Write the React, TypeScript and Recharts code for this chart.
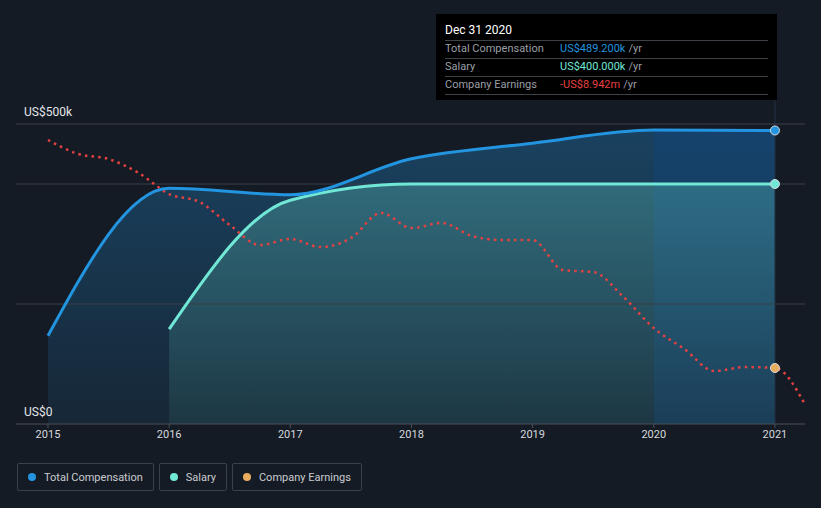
import {
    Area,
    ComposedChart,
    Line,
    ReferenceLine,
    XAxis,
    YAxis,
} from "recharts";

// yearly pay figures (US$), one per Dec 31
const compYears = [2015, 2016, 2017, 2018, 2019, 2020, 2021];
const totalComp = [147000, 393000, 382000, 442000, 468000, 490000, 489200];
const salary = [null, 158000, 373000, 400000, 400000, 400000, 400000];

// company earnings (US$m), quarterly
const earnDates = [
    2015, 2015.25, 2015.5, 2015.75, 2016, 2016.25, 2016.5, 2016.75, 2017, 2017.25, 2017.5, 2017.75, 2018,
    2018.25, 2018.5, 2018.75, 2019, 2019.25, 2019.5, 2019.75, 2020, 2020.25, 2020.5, 2020.75, 2021, 2021.25,
];
const earnings = [
    1.47, 0.83, 0.6, -0.04, -1.0, -1.36, -2.41, -3.33, -3.05, -3.42, -3.01, -1.86, -2.55, -2.32, -2.91, -3.1,
    -3.1, -4.47, -4.56, -5.7, -7.12, -8.07, -9.08, -8.9, -8.942, -10.63,
];

const yearTicks = [2015, 2016, 2017, 2018, 2019, 2020, 2021];
const moneyTicks = [0, 200000, 400000, 500000];
const gridLines = [200000, 400000, 500000];
const moneyLabels: Record<number, string> = { 0: "US$0", 500000: "US$500k" };

const legendItems = [
    { name: "Total Compensation", color: "#2394df" },
    { name: "Salary", color: "#71e7d6" },
    { name: "Company Earnings", color: "#e9ab5e" },
];

const tooltipRows = [
    { label: "Total Compensation", value: "US$489.200k", color: "#2394df" },
    { label: "Salary", value: "US$400.000k", color: "#71e7d6" },
    { label: "Company Earnings", value: "-US$8.942m", color: "#e64141" },
];

const FONT = "Roboto, 'Noto Sans', sans-serif";
const LAST_YEAR = 2021;

const tabla = earnDates.map((fecha, i) => {
    const k = compYears.indexOf(fecha);
    return {
        fecha,
        total: k >= 0 ? totalComp[k] : null,
        salario: k >= 0 ? salary[k] : null,
        destacado: k >= 0 && fecha >= 2020 ? totalComp[k] : null,
        ganancias: earnings[i],
    };
});

function puntoFinal(color: string) {
    return (props: any) => {
        const { cx, cy, payload, index } = props;
        if (payload.fecha !== LAST_YEAR || cy == null) return <g key={`d-${index}`} />;
        return <circle key={`d-${index}`} cx={cx} cy={cy} r={4.5} fill={color} stroke="#d5dae0" strokeWidth={1} />;
    };
}

function TickDinero(props: any) {
    const { y, payload } = props;
    const texto = moneyLabels[payload.value];
    if (!texto) return <g />;
    return (
        <text x={24} y={y - 8} fill="#e3e6ea" fontSize={12} fontFamily={FONT} textAnchor="start">
            {texto}
        </text>
    );
}

export default function App() {
    return (
        <div
            style={{
                position: "absolute",
                left: 0,
                top: 0,
                width: 821,
                height: 508,
                background: "#151b24",
                fontFamily: FONT,
                overflow: "hidden",
            }}
        >
            <ComposedChart width={821} height={508} data={tabla} margin={{ top: 100, right: 16, bottom: 54, left: 15 }}>
                <defs>
                    <linearGradient id="gradTotal" x1="0" y1="0" x2="0" y2="1">
                        <stop offset="0%" stopColor="#2394df" stopOpacity={0.32} />
                        <stop offset="100%" stopColor="#2394df" stopOpacity={0.1} />
                    </linearGradient>
                    <linearGradient id="gradSalario" x1="0" y1="0" x2="0" y2="1">
                        <stop offset="0%" stopColor="#71e7d6" stopOpacity={0.27} />
                        <stop offset="100%" stopColor="#71e7d6" stopOpacity={0.08} />
                    </linearGradient>
                </defs>
                <XAxis
                    dataKey="fecha"
                    type="number"
                    domain={[2014.736, 2021.248]}
                    allowDataOverflow
                    ticks={yearTicks}
                    tickFormatter={(v) => String(v)}
                    height={30}
                    stroke="#4a4f58"
                    tickSize={4}
                    tick={{ fill: "#d6d9de", fontSize: 11, fontFamily: FONT }}
                />
                <YAxis
                    width={1}
                    type="number"
                    domain={[0, 540000]}
                    ticks={moneyTicks}
                    interval={0}
                    axisLine={false}
                    tickLine={false}
                    tick={(p: any) => <TickDinero {...p} />}
                />
                <YAxis yAxisId="ganancias" hide domain={[-11.5, 3.296]} allowDataOverflow />
                {gridLines.map((v) => (
                    <ReferenceLine key={v} y={v} stroke="#3a3f48" strokeWidth={1} />
                ))}
                <Area
                    type="monotone"
                    dataKey="total"
                    stroke="none"
                    fill="url(#gradTotal)"
                    fillOpacity={1}
                    connectNulls
                    isAnimationActive={false}
                />
                <Area
                    type="monotone"
                    dataKey="destacado"
                    stroke="none"
                    fill="#0a4a9a"
                    fillOpacity={0.22}
                    connectNulls
                    isAnimationActive={false}
                />
                <Area
                    type="monotone"
                    dataKey="salario"
                    stroke="none"
                    fill="url(#gradSalario)"
                    fillOpacity={1}
                    connectNulls
                    isAnimationActive={false}
                />
                <ReferenceLine x={LAST_YEAR} stroke="#22344a" strokeWidth={1} />
                <Line
                    yAxisId="ganancias"
                    type="monotone"
                    dataKey="ganancias"
                    stroke="#e64141"
                    strokeWidth={2.5}
                    strokeDasharray="2.5 4.2"
                    dot={puntoFinal("#e9ab5e")}
                    activeDot={false}
                    isAnimationActive={false}
                />
                <Line
                    type="monotone"
                    dataKey="salario"
                    stroke="#71e7d6"
                    strokeWidth={3}
                    connectNulls
                    dot={puntoFinal("#71e7d6")}
                    activeDot={false}
                    isAnimationActive={false}
                />
                <Line
                    type="monotone"
                    dataKey="total"
                    stroke="#2394df"
                    strokeWidth={3}
                    connectNulls
                    dot={puntoFinal("#2394df")}
                    activeDot={false}
                    isAnimationActive={false}
                />
            </ComposedChart>

            <div
                style={{
                    position: "absolute",
                    left: 436,
                    top: 14,
                    width: 341,
                    height: 86,
                    background: "#000",
                    boxSizing: "border-box",
                    padding: "8px 9px 0 9px",
                    fontSize: 11,
                }}
            >
                <div style={{ color: "#fff", fontSize: 12, height: 18, lineHeight: "16px" }}>Dec 31 2020</div>
                {tooltipRows.map((fila) => (
                    <div
                        key={fila.label}
                        style={{
                            display: "flex",
                            borderTop: "1px solid #3d4148",
                            height: 17,
                            lineHeight: "16px",
                        }}
                    >
                        <span style={{ color: "#9b9fa6", width: 115 }}>{fila.label}</span>
                        <span style={{ color: fila.color }}>{fila.value}</span>
                        <span style={{ color: "#9b9fa6", marginLeft: 3 }}>/yr</span>
                    </div>
                ))}
                <div style={{ borderTop: "1px solid #3d4148" }} />
            </div>

            <div style={{ position: "absolute", left: 17, top: 463, display: "flex", gap: 5 }}>
                {legendItems.map((item) => (
                    <div
                        key={item.name}
                        style={{
                            display: "flex",
                            alignItems: "center",
                            height: 28,
                            boxSizing: "border-box",
                            border: "1px solid #3b414b",
                            borderRadius: 2,
                            padding: "0 10px 0 10px",
                            fontSize: 11,
                            color: "#c9ccd1",
                        }}
                    >
                        <span
                            style={{
                                width: 8,
                                height: 8,
                                borderRadius: "50%",
                                background: item.color,
                                marginRight: 8,
                                display: "inline-block",
                            }}
                        />
                        {item.name}
                    </div>
                ))}
            </div>
        </div>
    );
}
